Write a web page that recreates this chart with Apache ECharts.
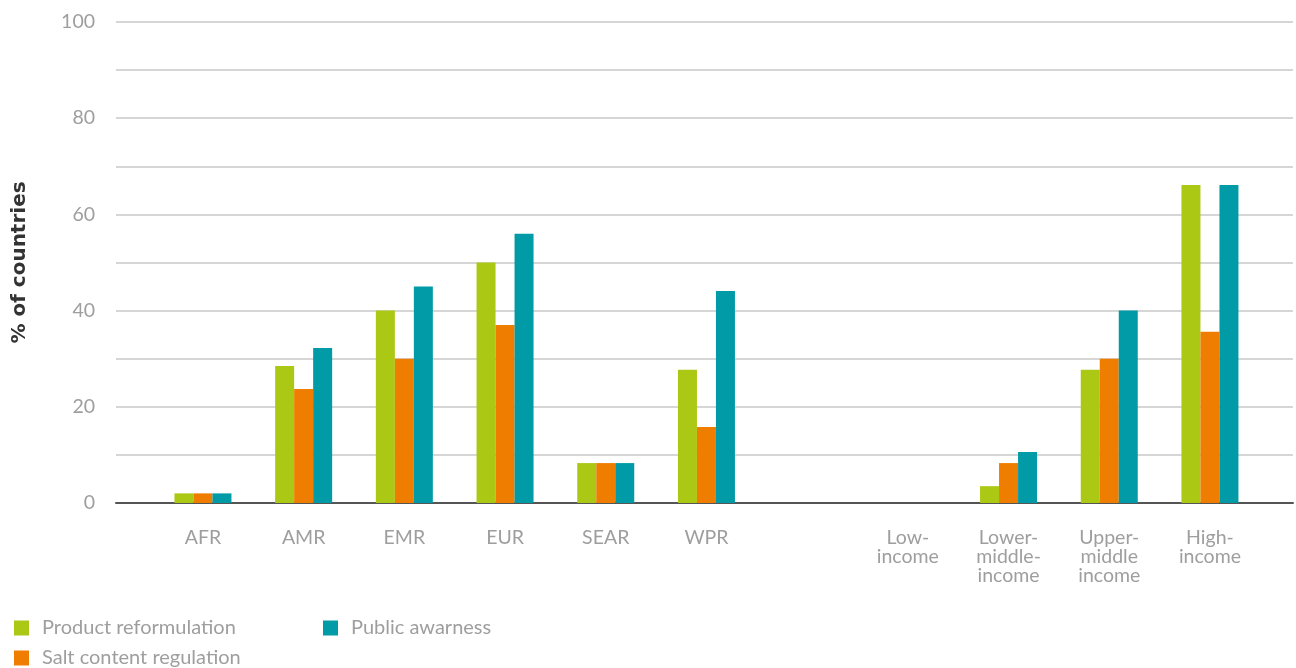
<!DOCTYPE html>
<html><head><meta charset="utf-8">
<script src="https://cdn.jsdelivr.net/npm/echarts@6/dist/echarts.min.js"></script>
<style>html,body{margin:0;padding:0;background:#fff}#c{width:1296px;height:668px}</style>
</head><body><div id="c"></div>
<script>
const categories = ['AFR','AMR','EMR','EUR','SEAR','WPR','','Low-\nincome','Lower-\nmiddle-\nincome','Upper-\nmiddle\nincome','High-\nincome'];
const productReformulation = [2, 28.5, 40, 50, 8.3, 27.7, null, 0, 3.5, 27.7, 66.1];
const saltContentRegulation = [2, 23.7, 30, 37, 8.3, 15.8, null, 0, 8.3, 30, 35.6];
const publicAwarness = [2, 32.2, 45, 56, 8.3, 44.1, null, 0, 10.6, 40, 66.1];
const yTicks = [0, 20, 40, 60, 80, 100];

const FONT = 'Lato';
const GRAY = '#9e9e9e';
const chart = echarts.init(document.getElementById('c'));
const legendText = {color: GRAY, fontSize: 20, fontFamily: FONT, padding: [0, 0, 0, 8]};
const legendBase = {itemWidth: 15, itemHeight: 15, padding: 0, textStyle: legendText, icon: 'rect', selectedMode: false};
chart.setOption({
  animation: false,
  grid: [
    {left: 116, right: 3, top: 22, bottom: 165},
    {left: 152.6, right: 35.7, top: 22, bottom: 165}
  ],
  xAxis: [
    {gridIndex: 0, type: 'value', min: 0, max: 1, axisLabel: {show: false}, axisTick: {show: false}, splitLine: {show: false},
     axisLine: {show: true, lineStyle: {color: '#555', width: 2}}},
    {gridIndex: 1, type: 'category', data: categories, axisLine: {show: false}, axisTick: {show: false},
     axisLabel: {interval: 0, color: GRAY, fontSize: 19.5, fontFamily: FONT, lineHeight: 19, margin: 25, verticalAlign: 'top'}}
  ],
  yAxis: [
    {gridIndex: 0, type: 'value', min: 0, max: 100, interval: 10,
     name: '% of countries', nameLocation: 'middle', nameGap: 86,
     nameTextStyle: {color: '#333', fontSize: 20, fontWeight: 'bold', fontFamily: 'DejaVu Sans'},
     axisLine: {show: false}, axisTick: {show: false},
     axisLabel: {color: GRAY, fontSize: 19.5, fontFamily: FONT, margin: 21,
       formatter: v => yTicks.indexOf(v) >= 0 ? String(v) : ''},
     splitLine: {lineStyle: {color: '#c8c8c8', width: 1.5}}},
    {gridIndex: 1, type: 'value', min: 0, max: 100, show: false, splitLine: {show: false}}
  ],
  legend: [
    Object.assign({left: 14, top: 618, data: ['Product reformulation']}, legendBase),
    Object.assign({left: 323, top: 618, data: ['Public awarness']}, legendBase),
    Object.assign({left: 14, top: 648, data: ['Salt content regulation']}, legendBase)
  ],
  series: [
    {name: 'Product reformulation', type: 'bar', xAxisIndex: 1, yAxisIndex: 1, data: productReformulation, barWidth: 19, barGap: '0%', itemStyle: {color: '#aac814'}},
    {name: 'Salt content regulation', type: 'bar', xAxisIndex: 1, yAxisIndex: 1, data: saltContentRegulation, barWidth: 19, barGap: '0%', itemStyle: {color: '#ef7d00'}},
    {name: 'Public awarness', type: 'bar', xAxisIndex: 1, yAxisIndex: 1, data: publicAwarness, barWidth: 19, barGap: '0%', itemStyle: {color: '#009ba6'}}
  ]
});
</script></body></html>
